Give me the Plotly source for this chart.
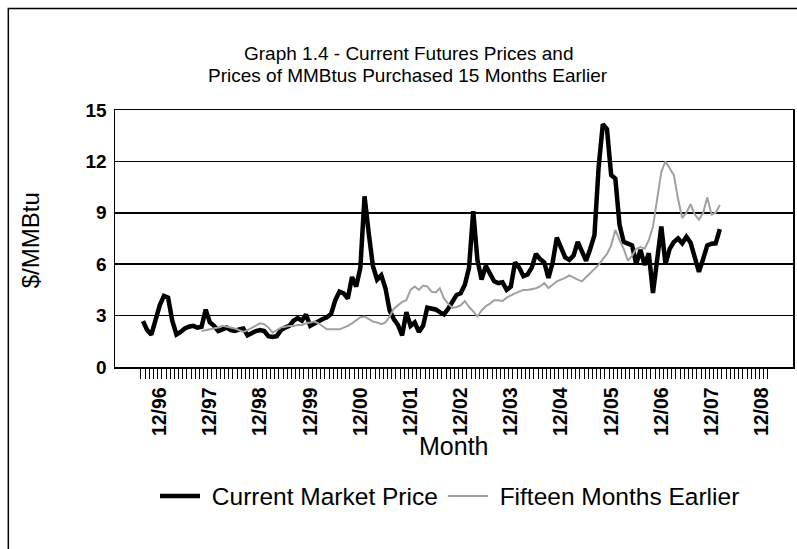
import plotly.graph_objects as go

# month index: 0 = Dec 1996
current_start = -4   # Aug 1996
current_price = [
    2.68, 2.15, 1.89, 2.7, 3.6, 4.15, 4.05, 2.7, 1.9, 2.05,
    2.25, 2.35, 2.4, 2.3, 2.35, 3.35, 2.6, 2.4, 2.1, 2.2,
    2.3, 2.15, 2.1, 2.2, 2.25, 1.85, 2.0, 2.1, 2.15, 2.1,
    1.8, 1.75, 1.8, 2.15, 2.3, 2.4, 2.7, 2.85, 2.7, 3.07,
    2.4, 2.55, 2.68, 2.8, 2.9, 3.1, 3.9, 4.4, 4.3, 4.0,
    5.25, 4.7, 5.8, 9.96, 7.8, 5.9, 5.1, 5.35, 4.6, 3.3,
    2.8, 2.45, 1.85, 3.2, 2.4, 2.6, 2.05, 2.4, 3.46, 3.4,
    3.36, 3.2, 3.07, 3.4, 3.75, 4.2, 4.3, 4.8, 5.8, 9.1,
    6.25, 5.1, 5.9, 5.5, 5.0, 4.9, 4.95, 4.5, 4.7, 6.1,
    5.8, 5.3, 5.4, 5.8, 6.6, 6.3, 6.1, 5.2, 6.1, 7.55,
    7.0, 6.4, 6.25, 6.5, 7.3, 6.8, 6.2, 6.9, 7.7, 11.66,
    14.17, 13.88, 11.2, 11.0, 8.3, 7.3, 7.22, 7.1, 6.0, 6.83,
    5.96, 6.64, 4.32, 6.3, 8.2, 6.0, 6.9, 7.3, 7.5, 7.22,
    7.6, 7.25, 6.5, 5.55, 6.3, 7.1, 7.2, 7.22, 8.05,
]

fifteen_start = 10   # Oct 1997
fifteen_months_earlier = [
    2.1, 2.15, 2.2, 2.25, 2.3, 2.4, 2.35, 2.3, 2.25, 2.15,
    2.05, 2.15, 2.3, 2.45, 2.55, 2.5, 2.3, 2.0, 2.15, 2.3,
    2.35, 2.4, 2.4, 2.45, 2.45, 2.55, 2.6, 2.65, 2.55, 2.35,
    2.2, 2.2, 2.2, 2.2, 2.3, 2.4, 2.55, 2.75, 2.9, 2.95,
    2.8, 2.65, 2.6, 2.5, 2.6, 2.95, 3.4, 3.6, 3.8, 3.9,
    4.5, 4.7, 4.5, 4.75, 4.7, 4.4, 4.35, 4.6, 4.0, 3.7,
    3.45, 3.5, 3.6, 3.85, 3.5, 3.25, 2.95, 3.3, 3.55, 3.7,
    3.9, 3.9, 3.85, 4.05, 4.2, 4.3, 4.4, 4.5, 4.5, 4.55,
    4.6, 4.7, 4.9, 4.6, 4.8, 5.0, 5.1, 5.2, 5.35, 5.2,
    5.1, 5.0, 5.25, 5.5, 5.7, 5.96, 6.3, 6.6, 7.1, 8.0,
    7.4, 6.9, 6.2, 6.5, 6.9, 7.0, 6.9, 7.4, 8.2, 9.8,
    11.4, 12.0, 11.6, 11.2, 9.8, 8.7, 9.0, 9.5, 8.9, 8.6,
    9.0, 9.9, 8.9, 9.0, 9.45,
]

tick_labels = ["12/96", "12/97", "12/98", "12/99", "12/00", "12/01", "12/02",
               "12/03", "12/04", "12/05", "12/06", "12/07", "12/08"]
tick_positions = [12 * i for i in range(len(tick_labels))]
first_category, last_category = -4, 145

x_current = list(range(current_start, current_start + len(current_price)))
x_fifteen = list(range(fifteen_start, fifteen_start + len(fifteen_months_earlier)))
month_ticks = [c - 0.5 for c in range(first_category, last_category + 2)]

FONT = "Liberation Sans, Arial, sans-serif"
NBSP = "\u00a0"

fig = go.Figure()
fig.add_trace(go.Scatter(
    x=x_current, y=current_price, mode="lines", name=NBSP + "Current Market Price",
    line=dict(color="black", width=4.5),
))
fig.add_trace(go.Scatter(
    x=x_fifteen, y=fifteen_months_earlier, mode="lines", name=NBSP + "Fifteen Months Earlier",
    line=dict(color="#a0a0a0", width=2),
))

W, H = 797, 549
L, R, T, B = 115, 2, 109.5, 181.5
pw, ph = W - L - R, H - T - B


def px(x):
    return (x - L) / pw


def py(y):
    return (H - B - y) / ph


fig.update_layout(
    width=W, height=H,
    margin=dict(l=L, r=R, t=T, b=B, pad=0),
    paper_bgcolor="white", plot_bgcolor="white",
    font=dict(family=FONT, color="black", size=18),
    showlegend=True,
    legend=dict(orientation="h", x=px(451), xanchor="center", y=py(497), yanchor="middle",
                font=dict(size=24.5, family=FONT), bgcolor="rgba(0,0,0,0)",
                itemwidth=40, tracegroupgap=0),
    xaxis=dict(
        range=[-10.7, 151.5], tickmode="array", tickvals=tick_positions, ticktext=tick_labels,
        tickangle=-90, ticks="", showgrid=False, zeroline=False,
        showline=True, mirror=True, linecolor="black", linewidth=1.5,
        tickfont=dict(size=19.5, family=FONT, weight="bold"), ticklabelstandoff=11,
        minor=dict(tickmode="array", tickvals=month_ticks, ticks="outside",
                   ticklen=10, tickcolor="black", tickwidth=1, showgrid=False),
    ),
    yaxis=dict(
        range=[0, 15], tickmode="array", tickvals=[0, 3, 6, 9, 12, 15],
        ticks="", showgrid=True, gridcolor="black", gridwidth=1.5, zeroline=False,
        showline=True, mirror=True, linecolor="black", linewidth=1.5,
        tickfont=dict(size=19, family=FONT, weight="bold"), ticklabelstandoff=3,
    ),
    annotations=[
        dict(text="Graph 1.4 - Current Futures Prices and",
             x=px(409), y=py(53), xref="paper", yref="paper", showarrow=False,
             xanchor="center", yanchor="middle", font=dict(size=19, family=FONT)),
        dict(text="Prices of MMBtus Purchased 15 Months Earlier",
             x=px(409), y=py(75), xref="paper", yref="paper", showarrow=False,
             xanchor="center", yanchor="middle", font=dict(size=19, family=FONT)),
        dict(text="$/MMBtu", textangle=-90, x=px(31), y=py(240), xref="paper", yref="paper",
             showarrow=False, xanchor="center", yanchor="middle", font=dict(size=24, family=FONT)),
        dict(text="Month", x=px(454), y=py(447), xref="paper", yref="paper", showarrow=False,
             xanchor="center", yanchor="middle", font=dict(size=25, family=FONT)),
    ],
    shapes=[
        dict(type="rect", xref="paper", yref="paper", x0=px(8), x1=px(820), y0=py(570), y1=py(7.5),
             line=dict(color="black", width=1.5), fillcolor="rgba(0,0,0,0)", layer="below"),
    ],
)

fig.write_html(
    "out.html",
    config={"displayModeBar": False, "staticPlot": True},
    post_script="document.body.style.margin='0';document.documentElement.style.overflow='hidden';document.body.style.overflow='hidden';",
)
